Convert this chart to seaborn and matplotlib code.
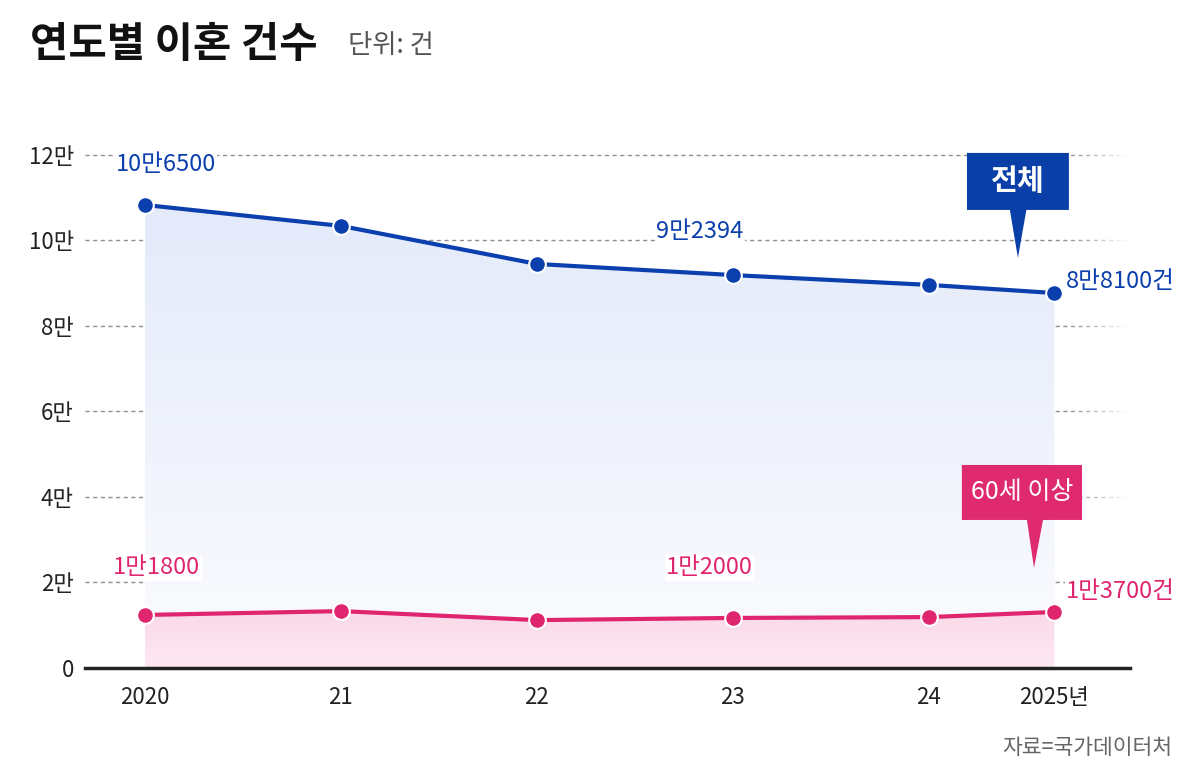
import numpy as np
import pandas as pd
import matplotlib
matplotlib.use('Agg')
import matplotlib.pyplot as plt
import seaborn as sns
from matplotlib.colors import LinearSegmentedColormap
from matplotlib.patches import Polygon

# %% data
years = ['2020', '21', '22', '23', '24', '2025년']
x_pos = [0, 1, 2, 3, 4, 4.64]   # 2025 sits closer to 2024 in the original layout
total = [108300, 103400, 94500, 91900, 89600, 87700]
over60 = [12400, 13300, 11200, 11700, 11900, 13100]
ytick_vals = [0, 20000, 40000, 60000, 80000, 100000, 120000]
ytick_labels = ['0', '2만', '4만', '6만', '8만', '10만', '12만']

BLUE = '#0b3fae'
PINK = '#e0256f'

# %% style
sns.set_style('white')
plt.rcParams['font.family'] = ['Noto Sans CJK KR', 'DejaVu Sans']

fig = plt.figure(figsize=(12, 7.83), dpi=100)
ax = fig.add_axes([0.0708, 0.1469, 0.8709, 0.688])


def grad_fill(x, y, c_top, c_bot):
    poly = ax.fill_between(x, y, 0, color='none', lw=0)
    path = poly.get_paths()[0]
    cmap = LinearSegmentedColormap.from_list('g', [c_bot, c_top])
    img = ax.imshow(np.linspace(0, 1, 256).reshape(-1, 1), cmap=cmap, aspect='auto',
                    extent=[min(x), max(x), 0, max(y)], origin='lower', zorder=1)
    img.set_clip_path(path, ax.transData)


grad_fill(x_pos, total, '#e4eafa', '#fbfcfe')
grad_fill(x_pos, over60, '#fad9e9', '#fde8f2')

# dashed grid
for v in ytick_vals[1:]:
    ax.axhline(v, color='#8f8f8f', ls=(0, (3, 2.5)), lw=1, zorder=0.5)

# fade grid out on the right
fade = np.ones((1, 100, 4))
fade[0, :, 3] = np.linspace(0, 1, 100)
ax.imshow(fade, aspect='auto', extent=[4.7, 5.03, 0, 126000], zorder=0.8)

# lines
df = pd.DataFrame({'x': x_pos * 2, 'v': total + over60,
                   's': ['전체'] * len(x_pos) + ['60세 이상'] * len(x_pos)})
sns.lineplot(data=df, x='x', y='v', hue='s', palette={'전체': BLUE, '60세 이상': PINK},
             marker='o', markersize=12, markeredgecolor='white', markeredgewidth=1.5,
             linewidth=3, legend=False, ax=ax, zorder=5)

ax.set_xlim(-0.306, 5.026)
ax.set_ylim(0, 126000)

# value labels
lab = dict(fontsize=17, bbox=dict(facecolor='white', edgecolor='none', pad=1.0), zorder=6)
ax.text(0.107, 117700, '10만6500', color=BLUE, ha='center', va='center', **lab)
ax.text(2.83, 102000, '9만2394', color=BLUE, ha='center', va='center', **lab)
ax.text(4.70, 90300, '8만8100건', color=BLUE, ha='left', va='center', **lab)
ax.text(0.06, 23400, '1만1800', color=PINK, ha='center', va='center', **lab)
ax.text(2.88, 23400, '1만2000', color=PINK, ha='center', va='center', **lab)
ax.text(4.70, 17800, '1만3700건', color=PINK, ha='left', va='center', **lab)

# callouts
ax.add_patch(Polygon([(4.194, 120468), (4.714, 120468), (4.714, 107134), (4.497, 107134),
                      (4.454, 95906), (4.413, 107134), (4.194, 107134)],
                     closed=True, facecolor='#0a3fa8', edgecolor='none', zorder=7))
ax.text(4.454, 113900, '전체', color='white', fontsize=21, weight='bold',
        ha='center', va='center', zorder=8)
ax.add_patch(Polygon([(4.168, 47485), (4.781, 47485), (4.781, 34620), (4.582, 34620),
                      (4.536, 23392), (4.5, 34620), (4.168, 34620)],
                     closed=True, facecolor='#df2a6f', edgecolor='none', zorder=7))
ax.text(4.474, 41100, '60세 이상', color='white', fontsize=18, weight='medium',
        ha='center', va='center', zorder=8)

# axes
ax.set_xticks(x_pos, years)
ax.set_yticks(ytick_vals, ytick_labels)
ax.tick_params(axis='x', length=0, pad=13, labelsize=16, colors='#222')
ax.tick_params(axis='y', length=0, pad=8, labelsize=16, colors='#222')
ax.set_xlabel('')
ax.set_ylabel('')
for s in ['top', 'right', 'left']:
    ax.spines[s].set_visible(False)
ax.spines['bottom'].set_color('#222')
ax.spines['bottom'].set_linewidth(2.5)
ax.spines['bottom'].set_zorder(4)

# titles
fig.text(0.025, 0.9425, '연도별 이혼 건수', fontsize=30, weight='bold', va='center', color='#111')
fig.text(0.29, 0.9425, '단위: 건', fontsize=19, va='center', color='#555')
fig.text(0.977, 0.045, '자료=국가데이터처', fontsize=15.5, ha='right', va='center', color='#666')

fig.savefig('out.png', dpi=100, facecolor='white')
